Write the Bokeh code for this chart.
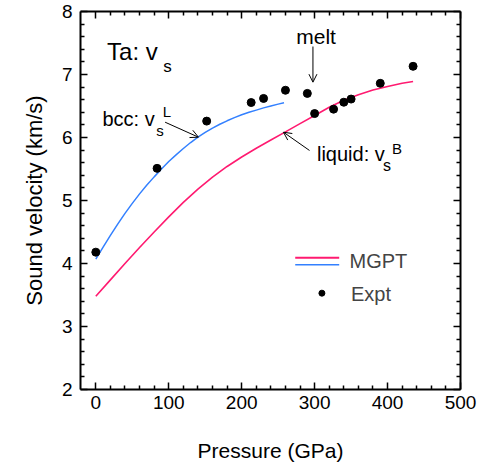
from bokeh.plotting import figure
from bokeh.models import LinearAxis, FixedTicker, Range1d, Label, Arrow, OpenHead
from bokeh.embed import file_html
from bokeh.resources import INLINE

# ---- data ----
bcc_p = [0, 10, 20, 30, 40, 50, 60, 70, 80, 90, 100, 110, 120, 130, 140, 150, 160, 170,
         180, 190, 200, 210, 220, 230, 240, 250, 258]
bcc_v = [4.07, 4.26, 4.445, 4.625, 4.795, 4.955, 5.105, 5.245, 5.375, 5.50, 5.62, 5.725, 5.825,
         5.92, 6.005, 6.08, 6.15, 6.21, 6.265, 6.315, 6.36, 6.40, 6.435, 6.47, 6.50, 6.53, 6.55]
liq_p = [0, 20, 40, 60, 80, 100, 120, 140, 160, 180, 200, 220, 240, 260, 280, 300, 320, 340,
         360, 380, 400, 420, 435]
liq_v = [3.48, 3.74, 4.00, 4.255, 4.50, 4.74, 4.97, 5.18, 5.37, 5.54, 5.69, 5.83, 5.96, 6.09,
         6.22, 6.35, 6.48, 6.59, 6.68, 6.755, 6.81, 6.86, 6.89]
exp_p = [0, 84, 152, 213, 230, 260, 290, 300, 326, 340, 350, 390, 435]
exp_v = [4.18, 5.51, 6.26, 6.555, 6.62, 6.75, 6.70, 6.38, 6.45, 6.56, 6.61, 6.86, 7.13]
x_ticks = [0, 100, 200, 300, 400, 500]
y_ticks = [2, 3, 4, 5, 6, 7, 8]

RED = "#ff1a70"
BLUE = "#3380ff"
FONT = "Liberation Sans"

p = figure(width=485, height=468, x_range=Range1d(-21, 500), y_range=Range1d(2, 8),
           output_backend="svg", toolbar_location=None,
           min_border_left=80, min_border_right=25, min_border_top=11, min_border_bottom=79)
p.grid.visible = False
p.outline_line_color = None
p.background_fill_color = "white"
p.border_fill_color = "white"

xt = FixedTicker(ticks=x_ticks, minor_ticks=[v for v in range(20, 500, 20) if v % 100])
yt = FixedTicker(ticks=y_ticks, minor_ticks=[round(2 + 0.2 * i, 1) for i in range(1, 30) if i % 5])


def style(ax, ticker, labels=True):
    ax.ticker = ticker
    ax.axis_line_width = 2
    ax.axis_line_color = "black"
    ax.major_tick_in = 7
    ax.major_tick_out = 0
    ax.minor_tick_in = 4
    ax.minor_tick_out = 0
    ax.major_tick_line_width = 1.5
    ax.minor_tick_line_width = 1.5
    ax.major_label_text_font = FONT
    ax.major_label_text_color = "black"
    ax.axis_label_text_font = FONT
    ax.axis_label_text_font_style = "normal"
    ax.axis_label_text_color = "black"
    if not labels:
        ax.major_label_text_color = None
        ax.major_label_text_font_size = "1px"
        ax.major_label_standoff = 0


style(p.xaxis[0], xt)
style(p.yaxis[0], yt)
p.xaxis[0].axis_label = "Pressure (GPa)"
p.yaxis[0].axis_label = "Sound velocity (km/s)"
p.xaxis[0].major_label_text_font_size = "19px"
p.yaxis[0].major_label_text_font_size = "19px"
p.xaxis[0].axis_label_text_font_size = "21px"
p.yaxis[0].axis_label_text_font_size = "22px"
p.xaxis[0].major_label_standoff = 6
p.yaxis[0].major_label_standoff = 8
p.xaxis[0].axis_label_standoff = 27
p.yaxis[0].axis_label_standoff = 12

top = LinearAxis()
style(top, xt, labels=False)
p.add_layout(top, "above")
right = LinearAxis()
style(right, yt, labels=False)
p.add_layout(right, "right")

# ---- data marks ----
p.line(bcc_p, bcc_v, line_color=BLUE, line_width=1.5)
p.line(liq_p, liq_v, line_color=RED, line_width=1.6)
p.scatter(exp_p, exp_v, size=8, color="black")

# ---- legend (manual) ----
p.segment(x0=[273.4], y0=[4.09], x1=[333.7], y1=[4.09], line_color=RED, line_width=2)
p.segment(x0=[273.4], y0=[3.979], x1=[333.7], y1=[3.979], line_color=BLUE, line_width=1.5)
p.scatter([310.0], [3.529], size=6, color="black")
p.add_layout(Label(x=347.9, y=4.037, text="MGPT", text_font=FONT, text_font_size="20px",
                   text_baseline="middle", text_align="left"))
p.add_layout(Label(x=349.8, y=3.508, text="Expt", text_font=FONT, text_font_size="20px",
                   text_baseline="middle", text_align="left"))


def lab(x, y, t, size):
    px = int(size.replace("px", ""))
    p.add_layout(Label(x=x, y=y, text=t, text_font=FONT, text_font_size=size,
                       text_baseline="alphabetic", text_align="left", text_color="black",
                       y_offset=round(0.3 * px)))


def arr(x0, y0, x1, y1):
    p.add_layout(Arrow(x_start=x0, y_start=y0, x_end=x1, y_end=y1, line_width=1,
                       line_color="black",
                       end=OpenHead(size=8, line_width=1, line_color="black")))


# ---- annotations ----
lab(15.5, 7.254, "Ta: v", "24px")
lab(92.5, 7.052, "s", "17px")

lab(9.1, 6.202, "bcc: v", "20px")
lab(91.9, 6.349, "L", "15px")
lab(82.7, 6.043, "s", "15px")
arr(95.0, 6.243, 140.7, 6.005)

lab(274.8, 7.513, "melt", "21px")
arr(297.7, 7.444, 297.7, 6.878)

lab(303.2, 5.635, "liquid: v", "20px")
lab(406.0, 5.767, "B", "15px")
lab(393.7, 5.476, "s", "16px")
arr(293.0, 5.794, 257.3, 6.084)

open("out.html", "w").write(file_html(p, INLINE))
